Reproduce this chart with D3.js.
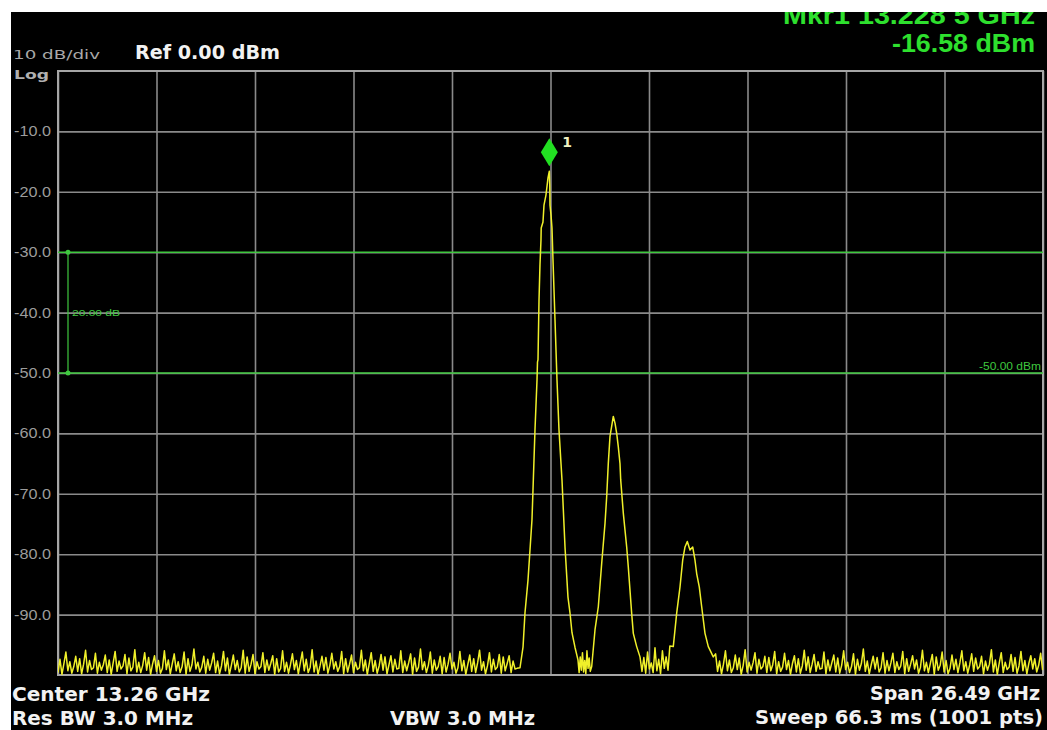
<!DOCTYPE html>
<html>
<head>
<meta charset="utf-8">
<script src="https://cdn.jsdelivr.net/npm/d3@7"></script>
<style>
  body { margin: 0; background: #fff; }
  svg { display: block; }
</style>
</head>
<body>
<script>

let width = 1047;
let height = 730;

let margins = {
	top: 71,
	right: 4,
	bottom: 55,
	left: 58
};

// Sweep settings
let centerFreq = 13.26;
let spanFreq = 26.49;
let refLevel = 0;
let dbPerDiv = 10;
let noiseStep = 0.05298; // every 2nd of the 1001 sweep points

let yTicks = [-10, -20, -30, -40, -50, -60, -70, -80, -90];
let displayLines = [-30, -50];

// Marker
let mkrFreq = 13.2285;
let mkrLevel = -16.58;

// Noise floor, left of the main peak (starts at the sweep start)
let noiseLeft = [
	-99.6,-97.4,-99.9,-98.1,-96.2,-99.3,-97.8,-99.7,-98.6,-96.9,-99.4,-97.3,-99.8,
	-98.2,-95.9,-99.5,-97.6,-99.1,-98.8,-96.4,-99.7,-97.9,-99.2,-98.3,-96.7,-99.6,
	-97.5,-99.9,-98.0,-96.1,-99.4,-97.7,-99.0,-98.5,-96.6,-99.8,-97.2,-99.3,-98.7,
	-95.8,-99.5,-97.9,-99.6,-98.4,-96.3,-99.2,-97.1,-99.9,-98.2,-96.8,-99.4,-97.6,
	-99.7,-98.9,-96.0,-99.1,-97.5,-99.8,-98.1,-96.5,-99.3,-97.8,-99.6,-98.6,-96.2,
	-99.9,-97.3,-99.4,-98.3,-95.7,-99.0,-97.9,-99.5,-98.7,-96.9,-99.7,-97.4,-99.2,
	-98.0,-96.4,-99.6,-97.7,-99.8,-98.5,-96.1,-99.3,-97.2,-99.9,-98.4,-96.7,-99.1,
	-97.6,-99.5,-98.8,-95.9,-99.7,-97.0,-99.4,-98.2,-96.6,-99.8,-97.8,-99.0,-98.6,
	-96.3,-99.6,-97.5,-99.2,-98.1,-96.8,-99.9,-97.3,-99.5,-98.9,-96.0,-99.4,-97.9,
	-99.7,-98.3,-96.5,-99.1,-97.6,-99.8,-98.0,-96.2,-99.3,-97.4,-99.6,-98.7,-95.8,
	-99.5,-97.7,-99.9,-98.5,-96.9,-99.2,-97.1,-99.7,-98.4,-96.4,-99.0,-97.8,-99.4,
	-98.6,-96.1,-99.8,-97.3,-99.5,-98.2,-96.7,-99.6,-97.9,-99.1,-98.8,-95.9,-99.3,
	-97.5,-99.9,-98.1,-96.3,-99.4,-97.6,-99.7,-98.5,-96.6,-99.2,-97.0,-99.8,-98.3,
	-96.8,-99.5,-97.4,-99.0,-98.9,-96.0,-99.6,-97.7,-99.3,-98.0,-96.5,-99.9,-97.2,
	-99.4,-98.7,-95.7,-99.1,-97.8,-99.6,-98.4,-96.2,-99.7,-97.5,-99.2,-98.6,-96.9,
	-99.8,-97.1,-99.5,-98.2,-96.4,-99.0,-97.9,-99.7,-98.8,-96.1,-99.3,-97.6,-99.9,
	-98.3,-96.7,-99.4,-97.3,-99.6,-98.0,-95.9,-99.2,-97.8,-99.8,-98.5,-96.3,-99.5,
	-97.4,-99.1,-98.7,-96.6,-99.7,-97.0,-99.3,-98.1,-96.8,-99.6,-97.7,-99.0,-98.9
];

// Noise floor, right of the third peak
let noiseRightStart = 17.70;
let noiseRight = [
	-96.5,-99.4,-97.7,-99.8,-98.2,-96.0,-99.3,-97.5,-99.6,-98.8,-96.7,-99.1,-97.2,
	-99.9,-98.4,-95.8,-99.5,-97.9,-99.2,-98.0,-96.3,-99.7,-97.4,-99.0,-98.6,-96.9,
	-99.6,-97.1,-99.3,-98.3,-96.1,-99.8,-97.8,-99.4,-98.7,-96.4,-99.1,-97.6,-99.9,
	-98.1,-96.8,-99.5,-97.3,-99.7,-98.5,-95.9,-99.2,-97.0,-99.6,-98.2,-96.6,-99.4,
	-97.8,-99.0,-98.9,-96.2,-99.8,-97.5,-99.3,-98.0,-96.7,-99.5,-97.2,-99.7,-98.4,
	-96.0,-99.1,-97.9,-99.6,-98.6,-96.5,-99.9,-97.4,-99.2,-98.1,-95.7,-99.4,-97.7,
	-99.8,-98.3,-96.9,-99.0,-97.1,-99.5,-98.8,-96.3,-99.7,-97.6,-99.3,-98.0,-96.4,
	-99.6,-97.8,-99.1,-98.5,-96.1,-99.8,-97.3,-99.4,-98.2,-96.8,-99.0,-97.5,-99.7,
	-98.7,-95.9,-99.3,-97.9,-99.6,-98.1,-96.6,-99.9,-97.0,-99.2,-98.4,-96.2,-99.5,
	-97.6,-99.8,-98.9,-96.7,-99.1,-97.4,-99.6,-98.0,-96.0,-99.3,-97.8,-99.7,-98.3,
	-96.5,-99.4,-97.2,-99.0,-98.6,-96.9,-99.8,-97.7,-99.2,-98.2,-95.8,-99.5,-97.5,
	-99.9,-98.0,-96.3,-99.6,-97.9,-99.1,-98.7,-96.6,-99.4,-97.1,-99.7,-98.5,-96.1,
	-99.3,-97.6,-99.8,-98.1,-96.8,-99.0,-97.3,-99.5,-98.4,-96.4,-99.2
];

// [GHz, dBm]
let mainPeak = [
	[12.440,-98.8],[12.521,-95.4],[12.574,-89.7],[12.655,-84.3],[12.762,-74.3],
	[12.789,-69.4],[12.843,-59.4],[12.897,-51.2],[12.910,-48.2],[12.924,-47.8],
	[12.951,-37.9],[12.977,-32.1],[13.004,-28.0],[13.010,-26.0],[13.058,-25.0],
	[13.085,-22.2],[13.139,-20.5],[13.193,-17.7],[13.2285,-16.58],[13.240,-18.9],
	[13.246,-22.2],[13.273,-23.8],[13.300,-26.0],[13.327,-31.3],[13.381,-41.2],
	[13.435,-51.2],[13.488,-59.4],[13.569,-67.7],[13.650,-78.8],[13.730,-87.1],
	[13.784,-89.7],[13.838,-93.0],[13.918,-95.4],[13.999,-97.5]
];

let gapOne = [
	[14.03,-99.6],[14.06,-97.0],[14.09,-99.2],[14.12,-96.3],[14.15,-99.5],
	[14.18,-97.6],[14.21,-99.8],[14.24,-96.0],[14.27,-98.9],[14.30,-97.2],[14.33,-99.4]
];

let secondPeak = [
	[14.368,-98.6],[14.457,-92.5],[14.546,-88.7],[14.637,-81.5],[14.726,-74.9],
	[14.771,-70.5],[14.814,-65.0],[14.860,-60.5],[14.949,-57.2],[14.995,-58.3],
	[15.040,-60.0],[15.083,-62.2],[15.129,-65.0],[15.148,-67.7],[15.218,-73.2],
	[15.309,-78.8],[15.352,-82.1],[15.443,-89.8],[15.487,-93.1],[15.578,-95.3],
	[15.667,-97.0]
];

let gapTwo = [
	[15.72,-99.4],[15.77,-97.1],[15.82,-99.7],[15.87,-96.2],[15.92,-99.0],
	[15.97,-98.0],[16.02,-99.6],[16.07,-95.5],[16.12,-99.3],[16.17,-97.4],
	[16.22,-99.8],[16.27,-96.0],[16.32,-98.9],[16.37,-97.0],[16.42,-99.2],[16.47,-95.2]
];

let thirdPeak = [
	[16.562,-95.3],[16.653,-89.8],[16.743,-85.4],[16.815,-81.0],[16.877,-78.8],
	[16.939,-77.9],[17.011,-79.3],[17.084,-78.8],[17.146,-81.0],[17.191,-83.2],
	[17.261,-85.4],[17.326,-88.7],[17.415,-93.1],[17.504,-95.3],[17.638,-97.0]
];

let freqStart = centerFreq - spanFreq / 2;
let freqStop = centerFreq + spanFreq / 2;

let xScale = d3.scaleLinear()
	.range([margins.left, width - margins.right])
	.domain([freqStart, freqStop]);

let yScale = d3.scaleLinear()
	.range([height - margins.bottom, margins.top])
	.domain([refLevel - 10 * dbPerDiv, refLevel]);

let plotW = width - margins.left - margins.right;
let plotH = height - margins.top - margins.bottom;

// Create the svg
let svg = d3.select("body")
	.append("svg")
		.attr("width", width)
		.attr("height", height);

svg.append("rect")
	.attr("x", 11)
	.attr("y", 12)
	.attr("width", width - 11)
	.attr("height", height - 12)
	.style("fill", "#000");

// Grid
let xGrid = d3.axisBottom(xScale)
	.tickValues(d3.range(11).map(i => freqStart + i * spanFreq / 10))
	.tickSize(-plotH)
	.tickFormat("");

svg.append("g")
	.attr("class", "x grid")
	.attr("transform", "translate(0," + (height - margins.bottom) + ")")
	.call(xGrid)
	.call(g => g.select(".domain").remove())
	.call(g => g.selectAll("line").style("stroke", "#8a8a8a").style("stroke-width", "1.6px"));

let yAxis = d3.axisLeft(yScale)
	.tickValues(yTicks)
	.tickSize(-plotW)
	.tickPadding(7)
	.tickFormat(d => d.toFixed(1));

svg.append("g")
	.attr("class", "y axis")
	.attr("transform", "translate(" + margins.left + ",0)")
	.call(yAxis)
	.call(g => g.select(".domain").remove())
	.call(g => g.selectAll("line").style("stroke", "#8a8a8a").style("stroke-width", "1.6px"))
	.call(g => g.selectAll("text")
		.attr("textLength", 37)
		.attr("lengthAdjust", "spacingAndGlyphs")
		.style("fill", "#9c9c9c")
		.style("font-family", "'Liberation Sans', Arial, sans-serif")
		.style("font-size", "14px"));

// Border
svg.append("rect")
	.attr("x", margins.left)
	.attr("y", margins.top)
	.attr("width", plotW)
	.attr("height", plotH)
	.style("fill", "none")
	.style("stroke", "#a6a6a6")
	.style("stroke-width", "2px");

// Display lines
svg.selectAll("line.display")
	.data(displayLines)
	.enter().append("line")
		.attr("class", "display")
		.attr("x1", margins.left)
		.attr("x2", width - margins.right)
		.attr("y1", d => yScale(d))
		.attr("y2", d => yScale(d))
		.style("stroke", "#3fc83f")
		.style("stroke-width", "1.6px");

// Delta between display lines
let dx = margins.left + 10;
svg.append("line")
	.attr("x1", dx)
	.attr("x2", dx)
	.attr("y1", yScale(displayLines[0]))
	.attr("y2", yScale(displayLines[1]))
	.style("stroke", "#3fc83f")
	.style("stroke-width", "1.2px");

displayLines.forEach(v => {
	svg.append("circle")
		.attr("cx", dx)
		.attr("cy", yScale(v))
		.attr("r", 2.5)
		.style("fill", "#3fc83f");
});

svg.append("text")
	.attr("x", dx + 4)
	.attr("y", yScale((displayLines[0] + displayLines[1]) / 2) + 3)
	.attr("textLength", 48)
	.attr("lengthAdjust", "spacingAndGlyphs")
	.style("fill", "#3fc83f")
	.style("font-family", "'Liberation Sans', Arial, sans-serif")
	.style("font-size", "9px")
	.text((displayLines[0] - displayLines[1]).toFixed(2) + " dB");

svg.append("text")
	.attr("x", width - 6)
	.attr("y", yScale(displayLines[1]) - 3)
	.attr("text-anchor", "end")
	.attr("textLength", 62)
	.attr("lengthAdjust", "spacingAndGlyphs")
	.style("fill", "#3fc83f")
	.style("font-family", "'Liberation Sans', Arial, sans-serif")
	.style("font-size", "11px")
	.text(displayLines[1].toFixed(2) + " dBm");

// Trace
let trace = []
	.concat(noiseLeft.map((v, i) => [freqStart + i * noiseStep, v]))
	.concat(mainPeak, gapOne, secondPeak, gapTwo, thirdPeak)
	.concat(noiseRight.map((v, i) => [noiseRightStart + i * noiseStep, v]));

svg.append("clipPath")
	.attr("id", "plotClip")
	.append("rect")
		.attr("x", margins.left)
		.attr("y", margins.top)
		.attr("width", plotW)
		.attr("height", plotH);

let line = d3.line()
	.x(d => xScale(d[0]))
	.y(d => yScale(d[1]));

svg.append("path")
	.datum(trace)
	.attr("d", line)
	.attr("clip-path", "url(#plotClip)")
	.style("fill", "none")
	.style("stroke", "#f0f02a")
	.style("stroke-width", "1.5px")
	.style("stroke-linejoin", "round");

// Marker diamond
let mx = xScale(mkrFreq);
let my = yScale(mkrLevel) - 19;
svg.append("path")
	.attr("d", "M" + mx + "," + (my - 14) + "L" + (mx + 8.5) + "," + my + "L" + mx + "," + (my + 14) + "L" + (mx - 8.5) + "," + my + "Z")
	.style("fill", "#22e022");

svg.append("text")
	.attr("x", mx + 13)
	.attr("y", my - 5)
	.style("fill", "#f0f0c0")
	.style("font-family", "'DejaVu Sans', sans-serif")
	.style("font-weight", "bold")
	.style("font-size", "14px")
	.text("1");

// Header and footer texts
function label(x, y, txt, opts) {
	let t = svg.append("text")
		.attr("x", x)
		.attr("y", y)
		.attr("text-anchor", opts.anchor || "start")
		.style("fill", opts.color || "#f2f2f2")
		.style("font-family", opts.family || "'DejaVu Sans', sans-serif")
		.style("font-weight", opts.weight || "bold")
		.style("font-size", opts.size + "px")
		.text(txt);
	if (opts.len) t.attr("textLength", opts.len).attr("lengthAdjust", "spacingAndGlyphs");
	return t;
}

label(13, 59, dbPerDiv + " dB/div", {size: 13, weight: "normal", color: "#a8a8a8", len: 87});
label(135, 59, "Ref " + refLevel.toFixed(2) + " dBm", {size: 19, len: 145});
label(14, 79, "Log", {size: 13, color: "#b0b0b0", len: 35});

label(1035, 24, "Mkr1 13.228 5 GHz", {size: 25, anchor: "end", color: "#2ee02e", family: "'Liberation Sans', Arial, sans-serif", len: 252});
label(1035, 52, mkrLevel.toFixed(2) + " dBm", {size: 25, anchor: "end", color: "#2ee02e", family: "'Liberation Sans', Arial, sans-serif", len: 143});

label(12, 701, "Center  " + centerFreq.toFixed(2) + " GHz", {size: 19, len: 198});
label(12, 725, "Res BW 3.0 MHz", {size: 19, len: 181});
label(390, 725, "VBW 3.0 MHz", {size: 19, len: 145});
label(1040, 700, "Span " + spanFreq.toFixed(2) + " GHz", {size: 19, anchor: "end", len: 170});
label(1043, 724, "Sweep  66.3 ms (1001 pts)", {size: 19, anchor: "end", len: 288});

// White frame above the screen clips the marker readout
svg.append("rect")
	.attr("x", 0)
	.attr("y", 0)
	.attr("width", width)
	.attr("height", 12)
	.style("fill", "#fff");

</script>
</body>
</html>
